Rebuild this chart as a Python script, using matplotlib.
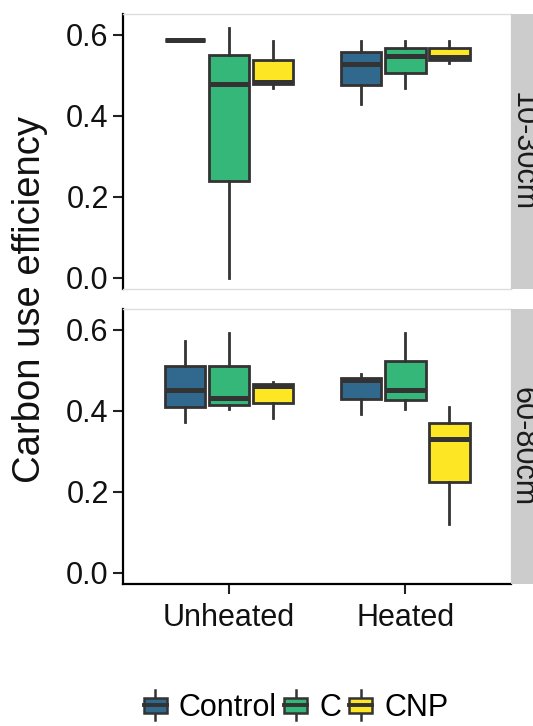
import matplotlib
matplotlib.use('Agg')
import matplotlib.pyplot as plt
from matplotlib.patches import Rectangle, Patch
from matplotlib.lines import Line2D
from matplotlib.legend_handler import HandlerBase

plt.rcParams['font.family'] = ['Liberation Sans', 'DejaVu Sans']

depths = ['10-30cm', '60-80cm']
heating = ['Unheated', 'Heated']
treatments = ['Control', 'C', 'CNP']
colors = ['#31688e', '#35b779', '#fde725']

# box stats, order: Unheated (Control, C, CNP), Heated (Control, C, CNP)
lo_10_30  = [0.587, 0.001, 0.469, 0.429, 0.469, 0.529]
q1_10_30  = [0.587, 0.238, 0.477, 0.476, 0.506, 0.538]
med_10_30 = [0.587, 0.477, 0.484, 0.527, 0.547, 0.544]
q3_10_30  = [0.587, 0.549, 0.537, 0.557, 0.567, 0.567]
hi_10_30  = [0.587, 0.615, 0.585, 0.585, 0.585, 0.585]

lo_60_80  = [0.372, 0.403, 0.383, 0.391, 0.403, 0.120]
q1_60_80  = [0.410, 0.414, 0.420, 0.430, 0.426, 0.224]
med_60_80 = [0.451, 0.431, 0.460, 0.475, 0.451, 0.331]
q3_60_80  = [0.511, 0.511, 0.465, 0.481, 0.522, 0.370]
hi_60_80  = [0.571, 0.591, 0.471, 0.490, 0.591, 0.410]

panels = [
    (lo_10_30, q1_10_30, med_10_30, q3_10_30, hi_10_30),
    (lo_60_80, q1_60_80, med_60_80, q3_60_80, hi_60_80),
]

W, H = 533, 726
edge = '#333333'


class BoxKey(HandlerBase):
    # legend key drawn as a small boxplot: whisker, filled box, median bar
    def create_artists(self, legend, orig_handle, xdescent, ydescent,
                       width, height, fontsize, trans):
        cx = width / 2 - xdescent
        cy = height / 2 - ydescent
        bh = 10.8
        whisk = Line2D([cx, cx], [cy - 10.8, cy + 10.8], color=edge, lw=1.8,
                       transform=trans)
        box = Rectangle((-xdescent, cy - bh / 2), width, bh,
                        facecolor=orig_handle.get_facecolor(), edgecolor=edge,
                        lw=1.8, transform=trans)
        med = Line2D([-xdescent, width - xdescent], [cy, cy], color=edge, lw=2.8,
                     transform=trans)
        return [whisk, box, med]


fig = plt.figure(figsize=(W / 100, H / 100), dpi=100)

left = 123.3 / W
pw = (511 - 123.3) / W
ph = 275 / H
tops = [14.3, 309.3]

dodge = [-0.25, 0.0, 0.25]
for p, (lo, q1, med, q3, hi) in enumerate(panels):
    bottom = 1 - (tops[p] + 275) / H
    ax = fig.add_axes([left, bottom, pw, ph])
    stats, pos, fills = [], [], []
    for g in range(len(heating)):
        for t in range(len(treatments)):
            i = g * len(treatments) + t
            stats.append(dict(whislo=lo[i], q1=q1[i], med=med[i], q3=q3[i],
                              whishi=hi[i], fliers=[]))
            pos.append(g + 1 + dodge[t])
            fills.append(colors[t])
    bp = ax.bxp(stats, positions=pos, widths=0.23, patch_artist=True,
                showcaps=False, showfliers=False,
                boxprops=dict(edgecolor=edge, linewidth=2.0),
                whiskerprops=dict(color=edge, linewidth=2.0),
                medianprops=dict(color=edge, linewidth=3.6, solid_capstyle='butt'))
    for box, c in zip(bp['boxes'], fills):
        box.set_facecolor(c)

    ax.set_xlim(0.4, 2.6)
    ax.set_ylim(-0.028, 0.65)
    ax.set_yticks([0.0, 0.2, 0.4, 0.6])
    ax.set_yticklabels(['0.0', '0.2', '0.4', '0.6'])
    ax.set_xticks([1, 2])
    ax.tick_params(axis='both', labelsize=22, length=7, width=1.5, pad=3.5,
                   color='#222222', labelcolor='#111111')
    ax.tick_params(axis='x', pad=6.5)
    for s in ['top', 'right', 'bottom']:
        ax.spines[s].set_color('#dddddd')
        ax.spines[s].set_linewidth(1.0)
    ax.spines['left'].set_color('black')
    ax.spines['left'].set_linewidth(1.6)
    if p == 0:
        ax.set_xticklabels([])
        ax.tick_params(axis='x', length=0)
    else:
        ax.set_xticklabels(heating)
        ax.spines['bottom'].set_color('black')
        ax.spines['bottom'].set_linewidth(1.6)

    # facet strip on the right
    sax = fig.add_axes([511 / W, bottom, 44 / W, ph])
    sax.set_facecolor('#cccccc')
    sax.set_xticks([])
    sax.set_yticks([])
    for s in sax.spines.values():
        s.set_visible(False)
    sax.text(-3 / 44, 0.5, depths[p], rotation=-90, ha='left', va='center',
             fontsize=22, color='#1a1a1a', transform=sax.transAxes)

fig.text(30 / W, 1 - 299.3 / H, 'Carbon use efficiency', rotation=90,
         ha='center', va='center', fontsize=27.5, color='#111111')

handles = [Patch(facecolor=c) for c in colors]
fig.legend(handles, treatments, handler_map={Patch: BoxKey()},
           loc='center', bbox_to_anchor=(296 / W, 1 - 708 / H), ncol=3,
           frameon=False, fontsize=22, handlelength=0.75, handleheight=0.7,
           handletextpad=0.4, columnspacing=0.25, borderpad=0)

fig.savefig('out.png', dpi=100)
